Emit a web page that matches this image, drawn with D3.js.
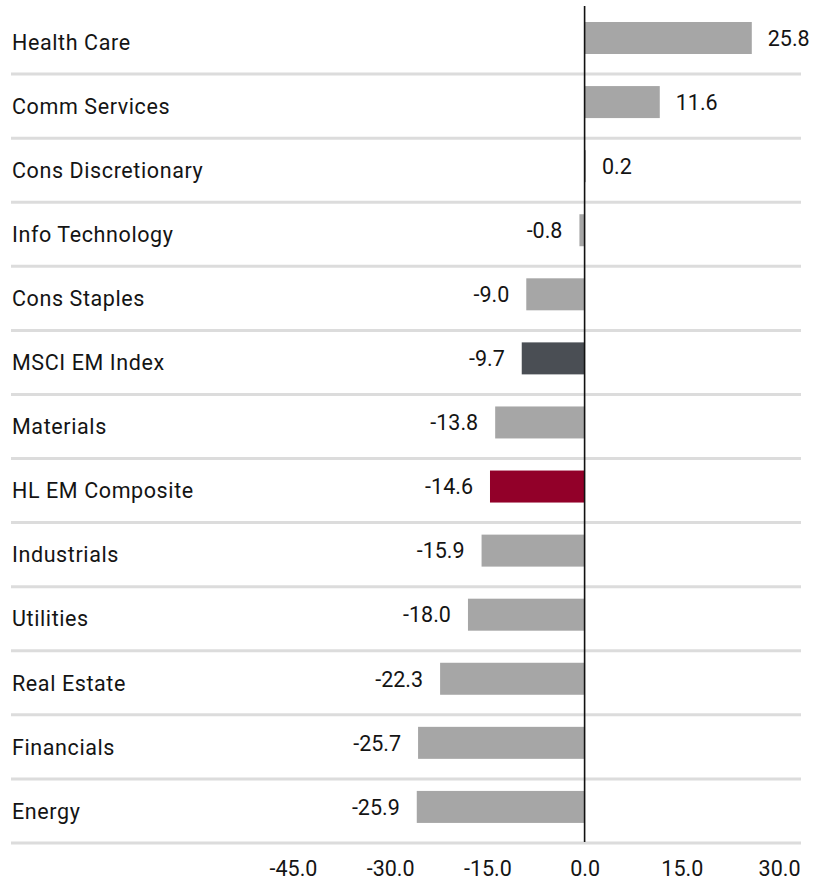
<!DOCTYPE html>
<html>
<head>
<meta charset="utf-8">
<script src="https://cdn.jsdelivr.net/npm/d3@7"></script>
<style>
  html, body { margin: 0; padding: 0; background: #fff; }
  svg text { font-family: Roboto, "Noto Sans", sans-serif; fill: #141414; }
</style>
</head>
<body>
<svg id="chart" width="817" height="880"></svg>
<script>
// Sector returns (%), top to bottom
const categories = [
  "Health Care", "Comm Services", "Cons Discretionary", "Info Technology",
  "Cons Staples", "MSCI EM Index", "Materials", "HL EM Composite",
  "Industrials", "Utilities", "Real Estate", "Financials", "Energy"
];
const values = [25.8, 11.6, 0.2, -0.8, -9.0, -9.7, -13.8, -14.6, -15.9, -18.0, -22.3, -25.7, -25.9];
const xTicks = [-45, -30, -15, 0, 15, 30];

// Highlighted rows
const highlight = { "MSCI EM Index": "#4a4e54", "HL EM Composite": "#920029" };
const baseColor = "#a6a6a6";

const data = categories.map((c, i) => ({ name: c, value: values[i] }));

// One decimal, plain hyphen for negatives
const fmt = v => v.toFixed(1);

const svg = d3.select("#chart");

const x = d3.scaleLinear().domain([-45, 30]).range([293, 779]);
const y = d3.scaleBand().domain(categories).range([10, 843]);
const step = y.step();
const barH = 32;
const barOffset = 12;
const fontSize = 21.5;

// Row separators
svg.append("g")
  .selectAll("line")
  .data(data)
  .join("line")
  .attr("x1", 11).attr("x2", 801)
  .attr("y1", d => y(d.name) + step)
  .attr("y2", d => y(d.name) + step)
  .attr("stroke", "#dcdcdc")
  .attr("stroke-width", 3);

// Bars
svg.append("g")
  .selectAll("rect")
  .data(data)
  .join("rect")
  .attr("x", d => x(Math.min(0, d.value)))
  .attr("width", d => Math.abs(x(d.value) - x(0)))
  .attr("y", d => y(d.name) + barOffset)
  .attr("height", barH)
  .attr("fill", d => highlight[d.name] || baseColor);

// Zero line
svg.append("line")
  .attr("x1", x(0)).attr("x2", x(0))
  .attr("y1", 6).attr("y2", 842)
  .attr("stroke", "#111")
  .attr("stroke-width", 1.6);

// Category labels
svg.append("g")
  .selectAll("text")
  .data(data)
  .join("text")
  .attr("x", 12)
  .attr("y", d => y(d.name) + step / 2)
  .attr("dy", "0.36em")
  .attr("font-size", fontSize)
  .attr("letter-spacing", 0.6)
  .text(d => d.name);

// Value labels
svg.append("g")
  .selectAll("text")
  .data(data)
  .join("text")
  .attr("x", d => d.value >= 0 ? x(d.value) + 16 : x(d.value) - 17)
  .attr("y", d => y(d.name) + barOffset + barH / 2)
  .attr("dy", "0.36em")
  .attr("text-anchor", d => d.value >= 0 ? "start" : "end")
  .attr("font-size", fontSize)
  .text(d => fmt(d.value));

// X axis labels
const axis = d3.axisBottom(x)
  .tickValues(xTicks)
  .tickFormat(fmt)
  .tickSize(0)
  .tickPadding(0);
const gAxis = svg.append("g").attr("transform", "translate(0,861)").call(axis);
gAxis.select(".domain").remove();
gAxis.selectAll("text")
  .attr("font-size", fontSize)
  .attr("dy", "0.71em")
  .style("font-family", "Roboto, 'Noto Sans', sans-serif")
  .attr("fill", "#141414");
</script>
</body>
</html>
